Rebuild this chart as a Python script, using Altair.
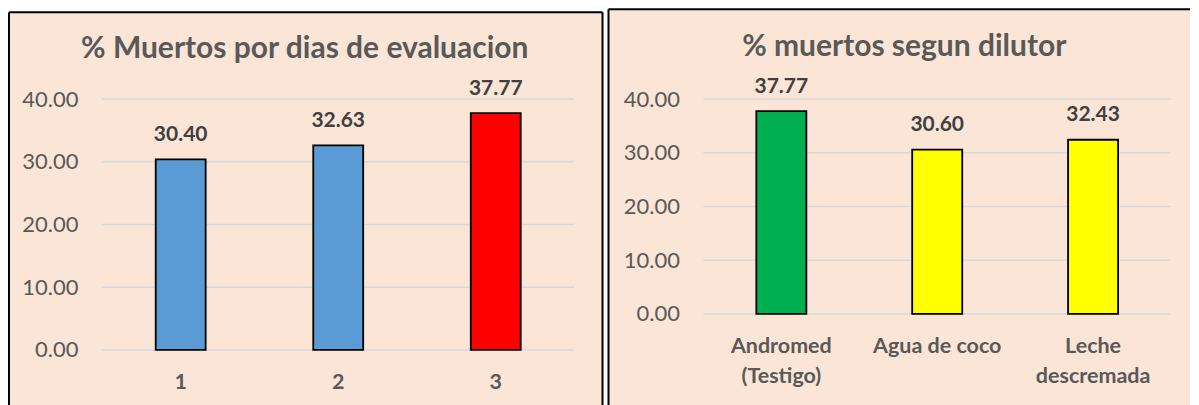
import altair as alt
import pandas as pd

# ---- data ----
dias = ["1", "2", "3"]
muertos_dias = [30.40, 32.63, 37.77]
dilutores = ["Andromed (Testigo)", "Agua de coco", "Leche descremada"]
dilutor_labels = ["Andromed|(Testigo)", "Agua de coco", "Leche|descremada"]
muertos_dil = [37.77, 30.60, 32.43]
y_ticks = [0, 10, 20, 30, 40]
title_left = "% Muertos por dias de evaluacion"
title_right = "% muertos segun dilutor"

# ---- styles ----
pal_dias = ["#5B9BD5", "#5B9BD5", "#FF0000"]
pal_dil = ["#00B050", "#FFFF00", "#FFFF00"]
BG = "#FBE5D6"
GRID = "#D9D9D9"
AXC = "#595959"
LBL = "#404040"
FONT = "Lato"


def panel(cats, vals, labels, pal, title, W, H, rect, borders, tpos, pad_in):
    df = pd.DataFrame({"cat": cats, "value": vals})
    yscale = alt.Scale(domain=[0, 40], nice=False)
    xscale = alt.Scale(domain=cats, paddingInner=pad_in, paddingOuter=pad_in / 2)
    expr = "split(" + " : ".join(
        [f"datum.label == '{c}' ? '{l}'" for c, l in zip(cats, labels)]) + " : datum.label, '|')"
    x_axis = alt.Axis(title=None, labelAngle=0, domain=False, ticks=False, grid=False,
                      labelPadding=38.5, labelBaseline="alphabetic",
                      labelFont=FONT, labelFontSize=21.5, labelFontWeight="bold",
                      labelColor=AXC, labelLineHeight=30, labelExpr=expr, zindex=1)
    y_axis = alt.Axis(title=None, values=y_ticks, format=".2f", grid=False,
                      domain=False, ticks=False, labelPadding=24,
                      labelFont=FONT, labelFontSize=22, labelColor=AXC, zindex=1)

    bg = alt.Chart(alt.Data(values=[{}])).mark_rect(fill=BG, strokeWidth=0).encode(
        x=alt.value(rect[0]), x2=alt.value(rect[1]),
        y=alt.value(rect[2]), y2=alt.value(rect[3]))

    edges = []
    for (x1, x2, y1, y2) in borders:
        edges.append(alt.Chart(alt.Data(values=[{}])).mark_rule(
            color="black", strokeWidth=2).encode(
            x=alt.value(x1), x2=alt.value(x2), y=alt.value(y1), y2=alt.value(y2)))

    grid = alt.Chart(pd.DataFrame({"v": y_ticks})).mark_rule(
        color=GRID, strokeWidth=1.5).encode(
        y=alt.Y("v:Q", scale=yscale, axis=y_axis, title=None),
        x=alt.value(0), x2=alt.value(W))

    bars = alt.Chart(df).mark_bar(stroke="black", strokeWidth=1.8).encode(
        x=alt.X("cat:N", scale=xscale, axis=x_axis, sort=cats, title=None),
        y=alt.Y("value:Q", scale=yscale, axis=y_axis, title=None),
        color=alt.Color("cat:N", scale=alt.Scale(domain=cats, range=pal), legend=None))

    text = alt.Chart(df).mark_text(
        dy=-18.5, baseline="alphabetic", font=FONT, fontSize=21,
        fontWeight="bold", color=LBL).encode(
        x=alt.X("cat:N", scale=xscale, axis=x_axis, sort=cats, title=None),
        y=alt.Y("value:Q", scale=yscale, axis=y_axis, title=None),
        text=alt.Text("value:Q", format=".2f"))

    ttl = alt.Chart(alt.Data(values=[{"t": title}])).mark_text(
        align="center", baseline="alphabetic", font=FONT, fontSize=30,
        fontWeight="bold", color=AXC).encode(
        x=alt.value(tpos[0]), y=alt.value(tpos[1]), text="t:N")

    return alt.layer(bg, *edges, grid, bars, text, ttl).properties(width=W, height=H)


left = panel(dias, muertos_dias, dias, pal_dias, title_left,
             473, 251, (-93, 501, -87, 320),
             [(-93, 501, -87, -87), (-93, -93, -87, 320), (501, 501, -87, 320)],
             (203, -41.5), 0.683)
right = panel(dilutores, muertos_dil, dilutor_labels, pal_dil, title_right,
              468, 215, (-95, 487, -90, 320),
              [(-95, 487, -90, -90), (-95, -95, -90, 320)],
              (201, -43), 0.679)

chart = alt.hconcat(left, right, spacing=4).resolve_scale(
    color="independent", x="independent", y="independent").properties(
    padding=0, background="white").configure_view(stroke=None)

chart.save("out.html", embed_options={"renderer": "svg", "actions": False})
